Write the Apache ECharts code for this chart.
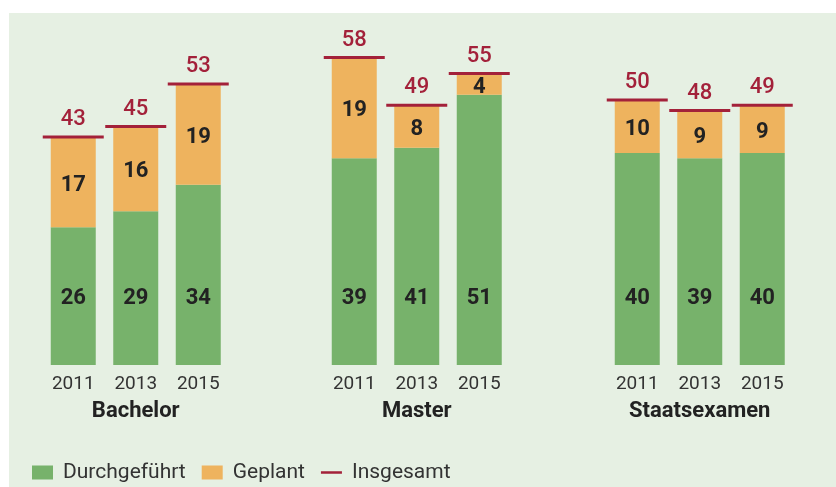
<!DOCTYPE html>
<html>
<head>
<meta charset="utf-8">
<script src="https://cdn.jsdelivr.net/npm/echarts@6/dist/echarts.min.js"></script>
<style>
  html, body { margin: 0; padding: 0; background: #fff; }
  #chart { width: 836px; height: 487px; }
</style>
</head>
<body>
<div id="chart"></div>
<script>
var years = ['2011', '2013', '2015']
var groups = ['Bachelor', 'Master', 'Staatsexamen']
var durchgefuehrt = [[26, 29, 34], [39, 41, 51], [40, 39, 40]]
var geplant = [[17, 16, 19], [19, 8, 4], [10, 9, 9]]
var insgesamt = [[43, 45, 53], [58, 49, 55], [50, 48, 49]]

var GREEN = '#77b26b'
var ORANGE = '#eeb35e'
var RED = '#a3213a'
var FONT = 'Roboto'

var gridLefts = [42, 323, 606]
var grids = [], xAxes = [], yAxes = [], series = []

for (var i = 0; i < groups.length; i++) {
  grids.push({left: gridLefts[i], width: 187.5, top: 47, bottom: 122})
  xAxes.push({
    type: 'category',
    gridIndex: i,
    data: years,
    name: groups[i],
    nameLocation: 'middle',
    nameGap: 35,
    nameTextStyle: {fontFamily: FONT, fontSize: 22, fontWeight: 'bold', color: '#222'},
    axisLine: {show: false},
    axisTick: {show: false},
    axisLabel: {margin: 10, fontFamily: FONT, fontSize: 19, color: '#333'}
  })
  yAxes.push({type: 'value', gridIndex: i, min: 0, max: 60, show: false, splitLine: {show: false}})

  series.push({
    name: 'Durchgeführt',
    type: 'bar',
    xAxisIndex: i, yAxisIndex: i,
    stack: 'g' + i,
    barWidth: 45,
    itemStyle: {color: GREEN},
    label: {show: true, position: 'insideBottom', distance: 56,
      fontFamily: FONT, fontSize: 22, fontWeight: 'bold', color: '#222'},
    data: durchgefuehrt[i]
  })
  series.push({
    name: 'Geplant',
    type: 'bar',
    xAxisIndex: i, yAxisIndex: i,
    stack: 'g' + i,
    barWidth: 45,
    itemStyle: {color: ORANGE},
    label: {show: true, position: 'inside', offset: [0, 3],
      fontFamily: FONT, fontSize: 22, fontWeight: 'bold', color: '#222'},
    data: geplant[i]
  })
  // total marker: flat red bar on top with value above
  series.push({
    name: 'Insgesamt',
    type: 'scatter',
    xAxisIndex: i, yAxisIndex: i,
    symbol: 'rect',
    symbolSize: [61, 3],
    z: 5,
    itemStyle: {color: RED, opacity: 1},
    label: {show: true, position: 'top', distance: 5,
      fontFamily: FONT, fontSize: 22, fontWeight: 500, color: RED},
    data: insgesamt[i]
  })
}

var chart = echarts.init(document.getElementById('chart'))
chart.setOption({
  animation: false,
  backgroundColor: '#fff',
  graphic: [{
    type: 'rect', z: -10, silent: true,
    shape: {x: 9, y: 13, width: 827, height: 474},
    style: {fill: '#e6f0e3'}
  }],
  legend: {
    left: 27,
    top: 457,
    itemWidth: 21,
    itemHeight: 14,
    itemGap: 16,
    textStyle: {fontFamily: FONT, fontSize: 21, color: '#333', padding: [0, 0, 0, 5]},
    data: [
      {name: 'Durchgeführt', icon: 'rect'},
      {name: 'Geplant', icon: 'rect'},
      {name: 'Insgesamt', icon: 'path://M0,0 L1,0 L1,0.12 L0,0.12 Z'}
    ]
  },
  grid: grids,
  xAxis: xAxes,
  yAxis: yAxes,
  series: series
})
</script>
</body>
</html>
